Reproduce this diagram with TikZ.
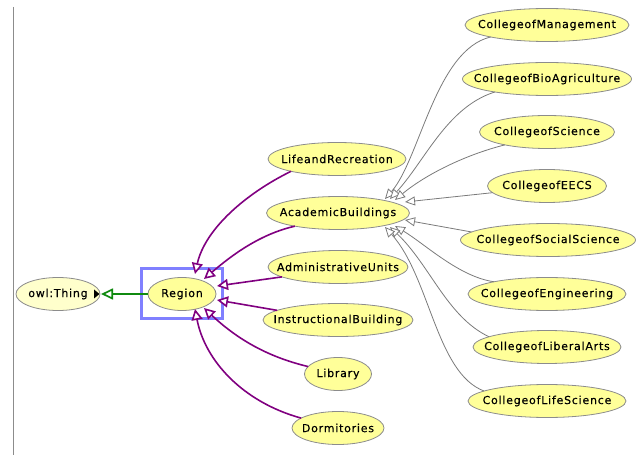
\documentclass[tikz,border=0pt]{standalone}
\usepackage{fontspec}
\newfontfamily\nodefont[LetterSpace=7,FakeBold=0.3]{DejaVu Sans}
\usetikzlibrary{arrows.meta,shapes.geometric}
\definecolor{nodeyellow}{HTML}{FFFF99}
\definecolor{thingyellow}{HTML}{FFFFCC}
\definecolor{nodeborder}{HTML}{8C8C8C}
\definecolor{subpurple}{HTML}{800080}
\definecolor{subgreen}{HTML}{108A10}
\definecolor{subgray}{HTML}{7A7A7A}
\definecolor{selblue}{HTML}{8080FF}
\begin{document}
\begin{tikzpicture}[x=1pt,y=-1pt,
  cls/.style={ellipse, draw=nodeborder, line width=0.8pt, fill=nodeyellow, inner sep=0pt, outer sep=0pt,
    minimum height=33pt, font={\nodefont\fontsize{11pt}{13pt}\selectfont}},
  thingcls/.style={cls, fill=thingyellow},
  pedge/.style={draw=subpurple, line width=1.6pt, -{Triangle[length=11pt,width=11pt,fill=white]}},
  grnedge/.style={draw=subgreen, line width=1.7pt, -{Triangle[length=12pt,width=11pt,fill=white]}},
  gedge/.style={draw=subgray, line width=0.8pt, -{Triangle[length=10pt,width=9pt,fill=white]}},
  selbox/.style={draw=selblue, line width=3pt, inner sep=0pt, outer sep=0pt, minimum width=81pt, minimum height=50pt},
]
\useasboundingbox (0,0) rectangle (637,462);
\draw[draw=nodeborder, line width=1pt] (13,7) -- (13,455);

% nodes
\node[thingcls, minimum width=84pt] (thing) at (58,294) {\makebox[0pt]{owl:Thing}};
\node[cls, minimum width=68pt] (region) at (182,294) {\makebox[0pt]{Region}};
\node[cls, minimum width=138pt] (life) at (337,159) {\makebox[0pt]{LifeandRecreation}};
\node[cls, minimum width=143pt] (acad) at (338,213) {\makebox[0pt]{AcademicBuildings}};
\node[cls, minimum width=140pt] (admin) at (338,267) {\makebox[0pt]{AdministrativeUnits}};
\node[cls, minimum width=150pt] (instr) at (338,320) {\makebox[0pt]{InstructionalBuilding}};
\node[cls, minimum width=67pt] (lib) at (338,374) {\makebox[0pt]{Library}};
\node[cls, minimum width=92pt] (dorm) at (338,428) {\makebox[0pt]{Dormitories}};
\node[cls, minimum width=164pt] (mgmt) at (547,25) {\makebox[0pt]{CollegeofManagement}};
\node[cls, minimum width=169pt] (bio) at (547,79) {\makebox[0pt]{CollegeofBioAgriculture}};
\node[cls, minimum width=135pt] (sci) at (547,132) {\makebox[0pt]{CollegeofScience}};
\node[cls, minimum width=119pt] (eecs) at (547,186) {\makebox[0pt]{CollegeofEECS}};
\node[cls, minimum width=175pt] (soc) at (548,240) {\makebox[0pt]{CollegeofSocialScience}};
\node[cls, minimum width=158pt] (eng) at (547,294) {\makebox[0pt]{CollegeofEngineering}};
\node[cls, minimum width=148pt] (lart) at (547,347) {\makebox[0pt]{CollegeofLiberalArts}};
\node[cls, minimum width=158pt] (lsci) at (547,401) {\makebox[0pt]{CollegeofLifeScience}};

% selection box
\node[selbox] (sel) at (182,293.5) {};

% expand marker
\fill[black] ([shift={(-6,-4.5)}]thing.east) -- ([shift={(-6,4.5)}]thing.east) -- ([shift={(-0.5,0)}]thing.east) -- cycle;

% green edge
\draw[grnedge] (region.west) -- ([xshift=1pt]thing.east);

% purple edges
\draw[pedge] (life.195) .. controls +(-45,22) and +(10,-45) .. ([shift={(13,-20)}]region.center);
\draw[pedge] (acad.197) .. controls +(-35,8) and +(28,-24) .. ([shift={(22,-15)}]region.center);
\draw[pedge] (admin.190) -- ([shift={(35,-8)}]region.center);
\draw[pedge] (instr.171) -- ([shift={(35,6)}]region.center);
\draw[pedge] (lib.166) .. controls +(-42,-10) and +(32,30) .. ([shift={(22,14)}]region.center);
\draw[pedge] (dorm.165) .. controls +(-58,-16) and +(10,52) .. ([shift={(13,15)}]region.center);

% gray edges
\draw[gedge] (mgmt.192) .. controls +(-55,13) and +(35,-40) .. ([shift={(47,-14)}]acad.center);
\draw[gedge] (bio.194) .. controls +(-48,15) and +(35,-38) .. ([shift={(52,-14)}]acad.center);
\draw[gedge] (sci.197) .. controls +(-40,10) and +(30,-25) .. ([shift={(57,-13)}]acad.center);
\draw[gedge] (eecs.187) -- ([shift={(67,-11)}]acad.center);
\draw[gedge] (soc.174) -- ([shift={(67,7)}]acad.center);
\draw[gedge] (eng.167) .. controls +(-35,-5) and +(30,18) .. ([shift={(57,13)}]acad.center);
\draw[gedge] (lart.170) .. controls +(-42,-20) and +(40,38) .. ([shift={(52,14)}]acad.center);
\draw[gedge] (lsci.171) .. controls +(-48,-18) and +(45,50) .. ([shift={(47,14)}]acad.center);
\end{tikzpicture}
\end{document}
